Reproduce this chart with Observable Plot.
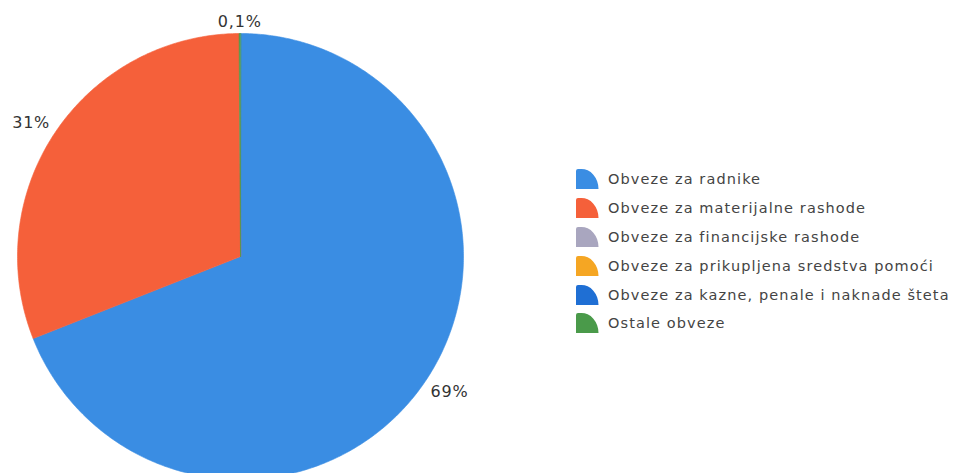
<!DOCTYPE html>
<html><head><meta charset="utf-8">
<script src="https://cdn.jsdelivr.net/npm/d3@7"></script>
<script src="https://cdn.jsdelivr.net/npm/@observablehq/plot@0.6"></script>
<style>
body{margin:0;background:#fff;overflow:hidden;width:957px;height:473px;position:relative;font-family:"DejaVu Sans",Verdana,sans-serif}
#chart{position:absolute;left:0;top:0}
#legend{position:absolute;left:575px;top:165px;}
.row{display:flex;align-items:center;height:28.8px;font-size:14.5px;letter-spacing:1.1px;color:#444;white-space:nowrap}
.row svg{margin-right:9px;flex:none}
</style></head><body>
<div id="chart"></div><div id="legend"></div>
<script>
const categories = [
  "Obveze za radnike",
  "Obveze za materijalne rashode",
  "Obveze za financijske rashode",
  "Obveze za prikupljena sredstva pomoći",
  "Obveze za kazne, penale i naknade šteta",
  "Ostale obveze"
];
const values = [69, 30.9, 0, 0, 0, 0.1];
const labels = ["69%", "31%", "", "", "", "0,1%"];
const colors = ["#3a8de3", "#f5603a", "#a9a6bf", "#f5a623", "#1f6fd4", "#4a9a4a"];

const arcs = d3.pie().sort(null).value(d => d)(values);
const rows = [];
const labelRows = [];
arcs.forEach((a, i) => {
  const span = a.endAngle - a.startAngle;
  if (span <= 0) return;
  const cat = categories[i];
  const n = Math.max(2, Math.ceil(span / 0.01));
  rows.push({cat, x: 0, y: 0});
  for (let k = 0; k <= n; k++) {
    const t = a.startAngle + span * k / n;
    rows.push({cat, x: Math.sin(t), y: Math.cos(t)});
  }
  if (labels[i]) {
    const m = (a.startAngle + a.endAngle) / 2;
    const s = Math.sin(m), c = Math.cos(m);
    labelRows.push({
      text: labels[i], x: 1.03 * s, y: 1.03 * c,
      ta: s > 0.1 ? "start" : s < -0.1 ? "end" : "middle",
      la: c > 0 ? "bottom" : "top"
    });
  }
});

const groups = d3.groups(labelRows, d => d.ta + "|" + d.la);
const textMarks = groups.map(([key, data]) => {
  const [ta, la] = key.split("|");
  return Plot.text(data, {x: "x", y: "y", text: "text", textAnchor: ta, lineAnchor: la,
    fill: "#333", fontSize: 16});
});

const chart = Plot.plot({
  width: 957, height: 473,
  style: {fontFamily: "DejaVu Sans, Verdana, sans-serif", background: "transparent", letterSpacing: "0.8px"},
  x: {domain: [-1, 1], range: [17, 463], axis: null},
  y: {domain: [-1, 1], range: [479, 33], axis: null},
  color: {domain: categories, range: colors},
  marks: [
    Plot.line(rows, {x: "x", y: "y", z: "cat", fill: "cat", stroke: "cat", strokeWidth: 0.6, curve: "linear-closed"}),
    ...textMarks
  ]
});
document.getElementById("chart").appendChild(chart);

const legend = document.getElementById("legend");
categories.forEach((c, i) => {
  const row = document.createElement("div");
  row.className = "row";
  row.innerHTML = `<svg width="24" height="22" viewBox="0 0 24 22"><path d="M1,21 V3 Q1,1 3,1 H6 A17,20 0 0 1 23.5,21 Z" fill="${colors[i]}"/></svg><span>${c}</span>`;
  legend.appendChild(row);
});
</script>
</body></html>
